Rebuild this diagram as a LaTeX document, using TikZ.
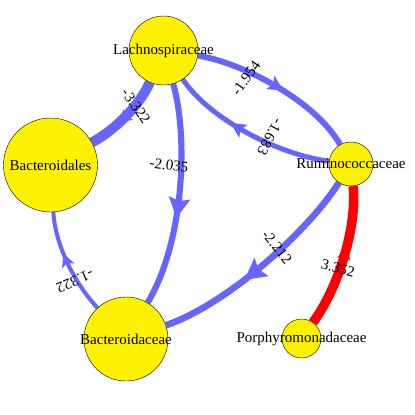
\documentclass[tikz,border=0pt]{standalone}
\usepackage{fontspec}
\setmainfont{Liberation Serif}
\usetikzlibrary{arrows.meta, decorations.markings, backgrounds}
\definecolor{edgeblue}{RGB}{102,102,255}

\begin{document}
\begin{tikzpicture}[
  x=1pt, y=-1pt,
  vertex/.style={circle, draw, fill=yellow, line width=0.4pt, inner sep=0pt},
  vlabel/.style={anchor=base, inner sep=0pt, font=\fontsize{15}{18}\selectfont},
  elabel/.style={inner sep=0pt, font=\fontsize{15}{18}\selectfont},
  flow/.style={edgeblue, line width=#1},
  midtip/.style n args={3}{postaction={decorate}, decoration={markings,
      mark=at position #1 with {\arrow{Stealth[length=#2, width=#3, inset=3pt]}}}}
]
\useasboundingbox (0,0) rectangle (415,415);

\node[vertex, minimum size=69pt, label={[vlabel]center:Lachnospiraceae}] (lach) at (163.5,50.5) {};
\node[vertex, minimum size=94pt, label={[vlabel]center:Bacteroidales}] (bales) at (50.5,165) {};
\node[vertex, minimum size=44pt, label={[vlabel]center:Ruminococcaceae}] (rumin) at (351,164) {};
\node[vertex, minimum size=84pt, label={[vlabel]center:Bacteroidaceae}] (bceae) at (126,339) {};
\node[vertex, minimum size=39pt, label={[vlabel]center:Porphyromonadaceae}] (porph) at (301.5,338.5) {};

\begin{scope}[on background layer]
\fill[white] (0,0) rectangle (415,415);
\draw[flow=10pt, midtip={0.6}{12pt}{14pt}] (lach) .. controls (140,105) and (115,130) .. (bales);
\draw[flow=5.9pt, midtip={0.54}{15pt}{15pt}] (lach) .. controls (240,62) and (315,100) .. (rumin);
\draw[flow=5pt, midtip={0.62}{15pt}{15pt}] (rumin) .. controls (280,155) and (210,120) .. (lach);
\draw[flow=6.1pt, midtip={0.6}{20pt}{21pt}] (lach) .. controls (188,135) and (185,240) .. (bceae);
\draw[flow=4pt, midtip={0.6}{13pt}{13pt}] (bceae) .. controls (70,278) and (55,240) .. (bales);
\draw[flow=6.6pt, midtip={0.6}{21pt}{22pt}] (rumin) .. controls (305,235) and (225,305) .. (bceae);
\draw[red, line width=9.5pt, midtip={0.58}{13pt}{13pt}] (porph) .. controls (340,285) and (357,225) .. (rumin);
\end{scope}

\node[elabel, rotate=-55] (w1) at (136,106) {-3.322};
\node[elabel, rotate=55] (w2) at (246,78) {-1.954};
\node[elabel, rotate=242] (w3) at (270,137) {-1.683};
\node[elabel, rotate=-7] (w4) at (169,165) {-2.035};
\node[elabel, rotate=203] (w5) at (75,281) {-1.322};
\node[elabel, rotate=-51] (w6) at (277,247) {-2.212};
\node[elabel, rotate=-15] (w7) at (338,268) {3.352};
\end{tikzpicture}
\end{document}
